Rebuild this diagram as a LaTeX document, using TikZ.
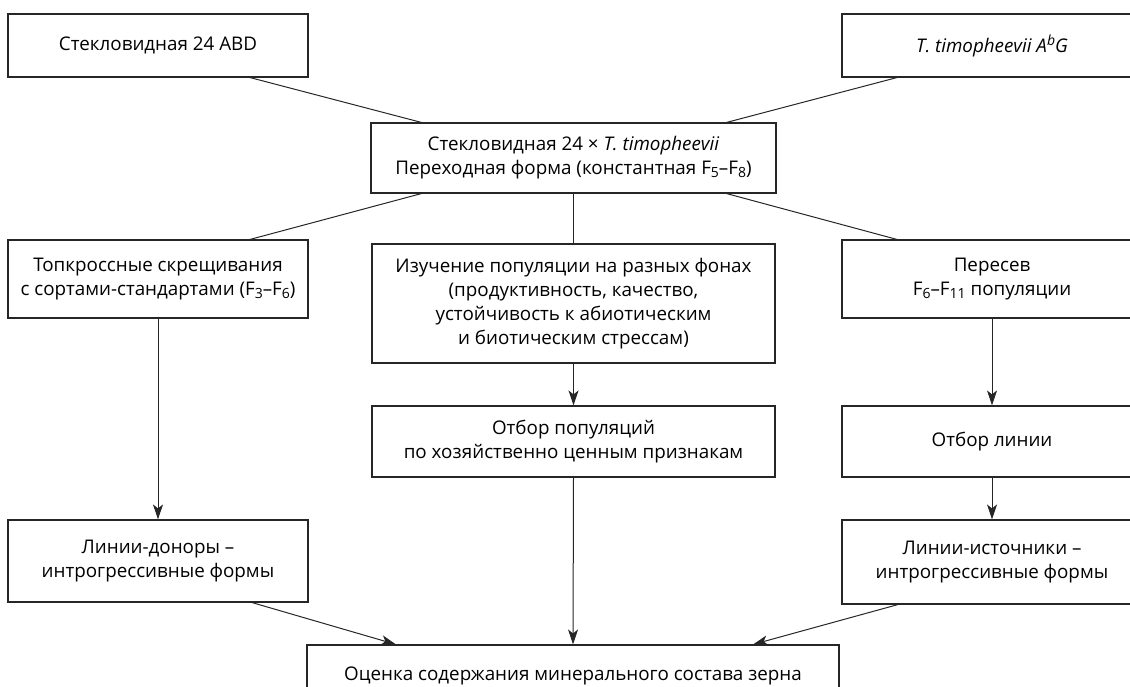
\documentclass[tikz,border=0pt]{standalone}
\usepackage{fontspec}
\setmainfont{Open Sans}
\usetikzlibrary{arrows.meta}
\newcommand\mysub[1]{\raisebox{-0.3ex}{\fontsize{14}{14}\selectfont #1}}
\newcommand\mysup[1]{\raisebox{0.7ex}{\fontsize{14}{14}\selectfont #1}}
\begin{document}
\begin{tikzpicture}[x=1pt,y=-1pt,
  box/.style={draw=black!85, line width=1.1pt, align=center, inner sep=0pt,
    font=\fontsize{18.8}{24}\selectfont},
  conn/.style={draw=black!85, line width=1pt},
  arr/.style={conn, -{Stealth[length=15pt,width=10pt,inset=4pt]}}]
\useasboundingbox (0,0) rectangle (1130,687);
\node[box, minimum width=300pt, minimum height=63pt] (b1) at (158,45.5) {Стекловидная 24 ABD};
\node[box, minimum width=300pt, minimum height=63pt] (b2) at (992,45.5) {\itshape T. timopheevii A\mysup{b}G};
\node[box, minimum width=405pt, minimum height=70pt] (c) at (573.5,158) {Стекловидная 24 × \textit{T. timopheevii}\\Переходная форма (константная F\mysub{5}–F\mysub{8})};
\node[box, minimum width=300pt, minimum height=78pt] (l1) at (158,279) {Топкроссные скрещивания\\с сортами-стандартами (F\mysub{3}–F\mysub{6})};
\node[box, minimum width=403pt, minimum height=119pt] (m1) at (573.5,303.5) {Изучение популяции на разных фонах\\(продуктивность, качество,\\устойчивость к абиотическим\\и биотическим стрессам)};
\node[box, minimum width=300pt, minimum height=78pt] (r1) at (992,279) {Пересев\\F\mysub{6}–F\mysub{11} популяции};
\node[box, minimum width=403pt, minimum height=71pt] (m2) at (573.5,441.5) {Отбор популяций\\по хозяйственно ценным признакам};
\node[box, minimum width=300pt, minimum height=71pt] (r2) at (992,441.5) {Отбор линии};
\node[box, minimum width=300pt, minimum height=82pt] (l2) at (158,561) {Линии-доноры –\\интрогрессивные формы};
\node[box, minimum width=300pt, minimum height=84pt] (r3) at (992,562) {Линии-источники –\\интрогрессивные формы};
\node[box, minimum width=532pt, minimum height=62pt] (bt) at (573,676) {Оценка содержания минерального состава зерна};
\draw[conn] ([xshift=92pt]b1.south) -- ([xshift=-152pt]c.north);
\draw[conn] ([xshift=-95pt]b2.south) -- ([xshift=153pt]c.north);
\draw[conn] ([xshift=-152pt]c.south) -- ([xshift=92pt]l1.north);
\draw[conn] ([xshift=153pt]c.south) -- ([xshift=-95pt]r1.north);
\draw[conn] (c.south) -- (m1.north);
\draw[arr] (l1.south) -- (l2.north);
\draw[arr] (m1.south) -- (m2.north);
\draw[arr] (r1.south) -- (r2.north);
\draw[arr] (r2.south) -- (r3.north);
\draw[arr] (m2.south) -- (bt.north);
\draw[arr] ([xshift=94pt]l2.south) -- ([xshift=-177pt]bt.north);
\draw[arr] ([xshift=-94pt]r3.south) -- ([xshift=180pt]bt.north);
\end{tikzpicture}
\end{document}
